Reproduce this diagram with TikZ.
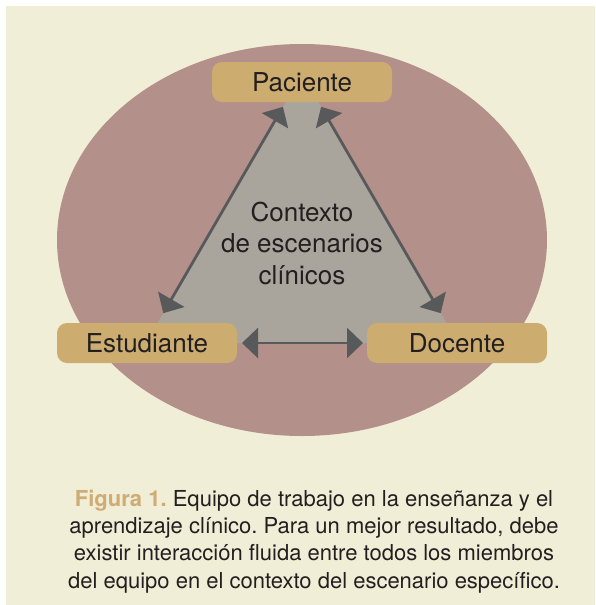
\documentclass[tikz,border=0pt]{standalone}
\usepackage{fontspec}
\setmainfont{TeX Gyre Heros}
\usetikzlibrary{arrows.meta}
\definecolor{bgc}{HTML}{F0EED6}
\definecolor{ellc}{HTML}{B4908B}
\definecolor{tric}{HTML}{AAA59C}
\definecolor{boxc}{HTML}{CCAD6F}
\definecolor{arrc}{HTML}{58595B}
\definecolor{txtc}{HTML}{231F20}
\definecolor{figc}{HTML}{CFAC74}
\pgfdeclarelayer{bg}
\pgfsetlayers{bg,main}
\frenchspacing
\tikzset{
  boxnode/.style={fill=boxc, rounded corners=10pt, minimum width=180pt, minimum height=40pt, inner sep=0pt, text=txtc, font=\fontsize{26}{31}\selectfont},
  ctxnode/.style={align=center, inner sep=0pt, text=txtc, font=\fontsize{26}{31.5}\selectfont},
  capnode/.style={align=center, inner sep=0pt, text=txtc, font=\fontsize{22}{27.2}\selectfont},
  arr/.style={draw=arrc, line width=2.8pt, {Triangle[length=16pt,width=30pt]}-{Triangle[length=16pt,width=30pt]}}
}
\begin{document}
\begin{tikzpicture}[x=1pt,y=-1pt]
\useasboundingbox (0,0) rectangle (595,605);
\node[boxnode] (pac) at (302,82) {Paciente};
\node[boxnode] (est) at (147,343) {Estudiante};
\node[boxnode] (doc) at (457,343) {Docente};
\node[ctxnode] (ctx) at (302,243) {Contexto\\de escenarios\\clínicos};
\node[capnode] (cap) at (314,541.5) {\textcolor{figc}{\bfseries Figura 1.} Equipo de trabajo en la enseñanza y el\\aprendizaje clínico. Para un mejor resultado, debe\\existir interacción fluida entre todos los miembros\\del equipo en el contexto del escenario específico.};
\begin{pgfonlayer}{bg}
\fill[bgc] (6,6) rectangle (595,605);
\fill[ellc] (302,240) ellipse [x radius=245pt, y radius=196pt];
\coordinate (A) at (302,74);
\coordinate (B) at (146,343);
\coordinate (C) at (458,343);
\fill[tric] (A) -- (B) -- (C) -- cycle;
\draw[arr, shorten <=38pt, shorten >=34.5pt] (A) -- (B);
\draw[arr, shorten <=38pt, shorten >=34.5pt] (A) -- (C);
\draw[arr, shorten <=96pt, shorten >=95pt] (B) -- (C);
\end{pgfonlayer}
\end{tikzpicture}
\end{document}
